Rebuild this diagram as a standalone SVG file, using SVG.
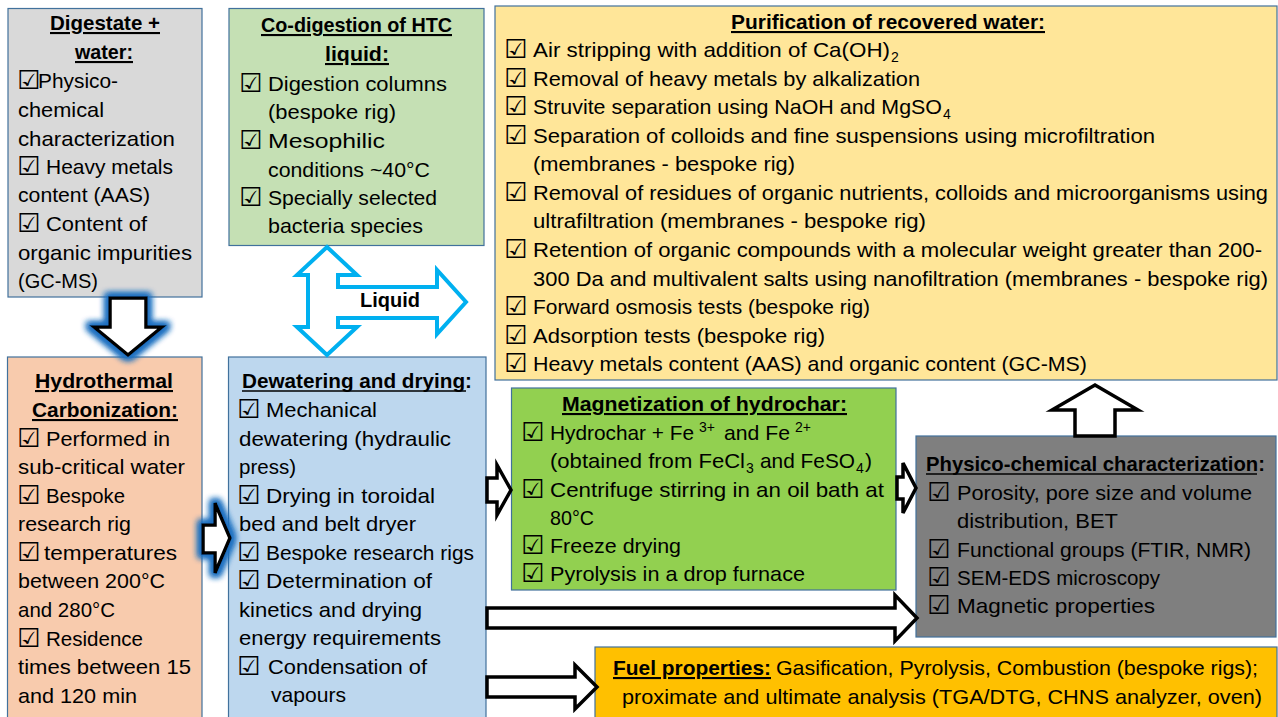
<svg xmlns="http://www.w3.org/2000/svg" width="1278" height="717" viewBox="0 0 1278 717">
<defs>
<style>
text{font-family:"Liberation Sans",Arial,sans-serif;font-size:21px;fill:#000}
.h{font-weight:bold;text-decoration:underline}
.hb{font-weight:bold}
.ul{stroke:#000;stroke-width:1.6}
.cb{font-family:"DejaVu Sans",sans-serif;font-size:26px}
.s{font-size:14px}
.box{stroke:#41719c;stroke-width:1.2}
.arr{fill:#fff;stroke:#000;stroke-width:3.5;stroke-linejoin:miter}
</style>
<filter id="glow" x="-50%" y="-50%" width="200%" height="200%">
<feMorphology in="SourceAlpha" operator="dilate" radius="3" result="d"/>
<feGaussianBlur in="d" stdDeviation="3" result="b"/>
<feFlood flood-color="#1f6fc0"/>
<feComposite in2="b" operator="in" result="g"/>
<feMerge><feMergeNode in="g"/><feMergeNode in="g"/><feMergeNode in="SourceGraphic"/></feMerge>
</filter>
</defs>
<rect width="1278" height="717" fill="#fff"/>

<g id="digestate">
<rect class="box" x="8" y="8.5" width="194" height="288.5" fill="#d9d9d9"/>
<text class="h" x="50" y="30" textLength="110" lengthAdjust="spacingAndGlyphs">Digestate +</text>
<text class="h" x="75" y="59" textLength="58" lengthAdjust="spacingAndGlyphs">water:</text>
<text class="cb" x="17" y="89">☑</text>
<text x="38" y="88" textLength="80" lengthAdjust="spacingAndGlyphs">Physico-</text>
<text x="18" y="117" textLength="86" lengthAdjust="spacingAndGlyphs">chemical</text>
<text x="18" y="146" textLength="157" lengthAdjust="spacingAndGlyphs">characterization</text>
<text class="cb" x="17" y="175">☑</text>
<text x="46" y="174" textLength="127" lengthAdjust="spacingAndGlyphs">Heavy metals</text>
<text x="18" y="202" textLength="132" lengthAdjust="spacingAndGlyphs">content (AAS)</text>
<text class="cb" x="17" y="232">☑</text>
<text x="46" y="231" textLength="101" lengthAdjust="spacingAndGlyphs">Content of</text>
<text x="18" y="260" textLength="174" lengthAdjust="spacingAndGlyphs">organic impurities</text>
<text x="18" y="288" textLength="80" lengthAdjust="spacingAndGlyphs">(GC-MS)</text>
</g>

<g id="codigestion">
<rect class="box" x="229" y="8.5" width="255" height="237" fill="#c5e0b4"/>
<text class="h" x="261" y="32" textLength="191" lengthAdjust="spacingAndGlyphs">Co-digestion of HTC</text>
<text class="h" x="325" y="61" textLength="64" lengthAdjust="spacingAndGlyphs">liquid:</text>
<text class="cb" x="239" y="92">☑</text>
<text x="268" y="91" textLength="179" lengthAdjust="spacingAndGlyphs">Digestion columns</text>
<text x="268" y="119" textLength="128" lengthAdjust="spacingAndGlyphs">(bespoke rig)</text>
<text class="cb" x="239" y="149">☑</text>
<text x="268" y="148" textLength="117" lengthAdjust="spacingAndGlyphs">Mesophilic</text>
<text x="268" y="177" textLength="162" lengthAdjust="spacingAndGlyphs">conditions ~40°C</text>
<text class="cb" x="239" y="206">☑</text>
<text x="268" y="205" textLength="169" lengthAdjust="spacingAndGlyphs">Specially selected</text>
<text x="268" y="233" textLength="155" lengthAdjust="spacingAndGlyphs">bacteria species</text>
</g>

<g id="purification">
<rect class="box" x="495" y="6" width="782" height="374" fill="#ffe699"/>
<text class="h" x="731" y="29" textLength="314" lengthAdjust="spacingAndGlyphs">Purification of recovered water:</text>
<text class="cb" x="504" y="58">☑</text>
<text x="533" y="57" textLength="357" lengthAdjust="spacingAndGlyphs">Air stripping with addition of Ca(OH)</text>
<text class="s" x="891" y="62">2</text>
<text class="cb" x="504" y="86.5">☑</text>
<text x="533" y="85.5" textLength="387" lengthAdjust="spacingAndGlyphs">Removal of heavy metals by alkalization</text>
<text class="cb" x="504" y="115">☑</text>
<text x="533" y="114" textLength="409" lengthAdjust="spacingAndGlyphs">Struvite separation using NaOH and MgSO</text>
<text class="s" x="943" y="119">4</text>
<text class="cb" x="504" y="144">☑</text>
<text x="533" y="143" textLength="622" lengthAdjust="spacingAndGlyphs">Separation of colloids and fine suspensions using microfiltration</text>
<text x="533" y="171" textLength="262" lengthAdjust="spacingAndGlyphs">(membranes - bespoke rig)</text>
<text class="cb" x="504" y="201">☑</text>
<text x="533" y="200" textLength="735" lengthAdjust="spacingAndGlyphs">Removal of residues of organic nutrients, colloids and microorganisms using</text>
<text x="533" y="228" textLength="393" lengthAdjust="spacingAndGlyphs">ultrafiltration (membranes - bespoke rig)</text>
<text class="cb" x="504" y="258">☑</text>
<text x="533" y="257" textLength="729" lengthAdjust="spacingAndGlyphs">Retention of organic compounds with a molecular weight greater than 200-</text>
<text x="533" y="286" textLength="735" lengthAdjust="spacingAndGlyphs">300 Da and multivalent salts using nanofiltration (membranes - bespoke rig)</text>
<text class="cb" x="504" y="315">☑</text>
<text x="533" y="314" textLength="337" lengthAdjust="spacingAndGlyphs">Forward osmosis tests (bespoke rig)</text>
<text class="cb" x="504" y="344">☑</text>
<text x="533" y="343" textLength="292" lengthAdjust="spacingAndGlyphs">Adsorption tests (bespoke rig)</text>
<text class="cb" x="504" y="372">☑</text>
<text x="533" y="371" textLength="554" lengthAdjust="spacingAndGlyphs">Heavy metals content (AAS) and organic content (GC-MS)</text>
</g>

<g id="htc">
<rect class="box" x="7.5" y="357" width="194.5" height="365" fill="#f8cbad"/>
<text class="h" x="35" y="388" textLength="138" lengthAdjust="spacingAndGlyphs">Hydrothermal</text>
<text class="h" x="32" y="417" textLength="146" lengthAdjust="spacingAndGlyphs">Carbonization:</text>
<text class="cb" x="17" y="447">☑</text>
<text x="46" y="446" textLength="124" lengthAdjust="spacingAndGlyphs">Performed in</text>
<text x="18" y="474" textLength="167" lengthAdjust="spacingAndGlyphs">sub-critical water</text>
<text class="cb" x="17" y="504">☑</text>
<text x="46" y="503" textLength="79" lengthAdjust="spacingAndGlyphs">Bespoke</text>
<text x="18" y="531" textLength="113" lengthAdjust="spacingAndGlyphs">research rig</text>
<text class="cb" x="17" y="561">☑</text>
<text x="44" y="560" textLength="133" lengthAdjust="spacingAndGlyphs">temperatures</text>
<text x="18" y="588" textLength="147" lengthAdjust="spacingAndGlyphs">between 200°C</text>
<text x="18" y="617" textLength="97" lengthAdjust="spacingAndGlyphs">and 280°C</text>
<text class="cb" x="17" y="647">☑</text>
<text x="46" y="646" textLength="97" lengthAdjust="spacingAndGlyphs">Residence</text>
<text x="18" y="674" textLength="173" lengthAdjust="spacingAndGlyphs">times between 15</text>
<text x="18" y="703" textLength="119" lengthAdjust="spacingAndGlyphs">and 120 min</text>
</g>

<g id="dewatering">
<rect class="box" x="228.5" y="357" width="257.5" height="365" fill="#bdd7ee"/>
<text class="hb" x="242" y="388" textLength="230" lengthAdjust="spacingAndGlyphs">Dewatering and drying:</text>
<line class="ul" x1="242" y1="391" x2="466" y2="391"/>
<text class="cb" x="237" y="418">☑</text>
<text x="266" y="417" textLength="111" lengthAdjust="spacingAndGlyphs">Mechanical</text>
<text x="239" y="446" textLength="212" lengthAdjust="spacingAndGlyphs">dewatering (hydraulic</text>
<text x="239" y="474" textLength="57" lengthAdjust="spacingAndGlyphs">press)</text>
<text class="cb" x="237" y="504">☑</text>
<text x="266" y="503" textLength="169" lengthAdjust="spacingAndGlyphs">Drying in toroidal</text>
<text x="239" y="531" textLength="177" lengthAdjust="spacingAndGlyphs">bed and belt dryer</text>
<text class="cb" x="237" y="561">☑</text>
<text x="266" y="560" textLength="208" lengthAdjust="spacingAndGlyphs">Bespoke research rigs</text>
<text class="cb" x="237" y="589">☑</text>
<text x="266" y="588" textLength="166" lengthAdjust="spacingAndGlyphs">Determination of</text>
<text x="239" y="617" textLength="183" lengthAdjust="spacingAndGlyphs">kinetics and drying</text>
<text x="239" y="645" textLength="202" lengthAdjust="spacingAndGlyphs">energy requirements</text>
<text class="cb" x="237" y="675">☑</text>
<text x="268" y="674" textLength="159" lengthAdjust="spacingAndGlyphs">Condensation of</text>
<text x="271" y="702" textLength="75" lengthAdjust="spacingAndGlyphs">vapours</text>
</g>

<g id="magnetization">
<rect class="box" x="511.5" y="388" width="384.5" height="202" fill="#92d050"/>
<text class="h" x="562" y="411" textLength="285" lengthAdjust="spacingAndGlyphs">Magnetization of hydrochar:</text>
<text class="cb" x="521" y="441">☑</text>
<text x="550" y="440" textLength="144" lengthAdjust="spacingAndGlyphs">Hydrochar + Fe</text>
<text class="s" x="699" y="432">3+</text>
<text x="724" y="440" textLength="66" lengthAdjust="spacingAndGlyphs">and Fe</text>
<text class="s" x="795" y="432">2+</text>
<text x="550" y="468" textLength="195" lengthAdjust="spacingAndGlyphs">(obtained from FeCl</text>
<text class="s" x="746" y="473">3</text>
<text x="760" y="468" textLength="95" lengthAdjust="spacingAndGlyphs">and FeSO</text>
<text class="s" x="856" y="473">4</text>
<text x="865" y="468">)</text>
<text class="cb" x="521" y="498">☑</text>
<text x="550" y="497" textLength="334" lengthAdjust="spacingAndGlyphs">Centrifuge stirring in an oil bath at</text>
<text x="550" y="525" textLength="44" lengthAdjust="spacingAndGlyphs">80°C</text>
<text class="cb" x="521" y="554">☑</text>
<text x="550" y="553" textLength="131" lengthAdjust="spacingAndGlyphs">Freeze drying</text>
<text class="cb" x="521" y="582">☑</text>
<text x="550" y="581" textLength="255" lengthAdjust="spacingAndGlyphs">Pyrolysis in a drop furnace</text>
</g>

<g id="physico">
<rect class="box" x="916" y="436" width="360" height="201" fill="#7f7f7f"/>
<text class="hb" x="926" y="471" textLength="339" lengthAdjust="spacingAndGlyphs">Physico-chemical characterization:</text>
<line class="ul" x1="926" y1="474" x2="1257" y2="474"/>
<text class="cb" x="927" y="501">☑</text>
<text x="957" y="500" textLength="295" lengthAdjust="spacingAndGlyphs">Porosity, pore size and volume</text>
<text x="957" y="528" textLength="161" lengthAdjust="spacingAndGlyphs">distribution, BET</text>
<text class="cb" x="927" y="558">☑</text>
<text x="957" y="557" textLength="294" lengthAdjust="spacingAndGlyphs">Functional groups (FTIR, NMR)</text>
<text class="cb" x="927" y="586">☑</text>
<text x="957" y="585" textLength="203" lengthAdjust="spacingAndGlyphs">SEM-EDS microscopy</text>
<text class="cb" x="927" y="614">☑</text>
<text x="957" y="613" textLength="198" lengthAdjust="spacingAndGlyphs">Magnetic properties</text>
</g>

<g id="fuel">
<rect class="box" x="595" y="647" width="682" height="75" fill="#ffc000"/>
<text class="h" x="613" y="675" textLength="158" lengthAdjust="spacingAndGlyphs">Fuel properties:</text>
<text x="776" y="675" textLength="482" lengthAdjust="spacingAndGlyphs">Gasification, Pyrolysis, Combustion (bespoke rigs);</text>
<text x="622" y="704" textLength="640" lengthAdjust="spacingAndGlyphs">proximate and ultimate analysis (TGA/DTG, CHNS analyzer, oven)</text>
</g>

<g id="connectors">
<path class="arr" filter="url(#glow)" d="M110,298 H146 V327 H162 L128,355 L94,327 H110 Z"/>
<path class="arr" filter="url(#glow)" d="M203,525 H215 V503 L230,538 L215,573 V553 H203 Z"/>
<path d="M327,247 L357,275 H338 V287 H437 V270 L466,302 L437,334 V318 H338 V327 H357 L327,355 L297,327 H308 V275 H297 Z" fill="#fff" stroke="#00b0f0" stroke-width="4" stroke-linejoin="miter"/>
<text class="hb" x="360" y="307" font-size="19" textLength="60" lengthAdjust="spacingAndGlyphs">Liquid</text>
<path class="arr" d="M487,478 H497 V465 L511,490 L497,515 V502 H487 Z"/>
<path class="arr" d="M897,477 H903 V463 L916,488 L903,513 V499 H897 Z"/>
<path class="arr" d="M487,608 H895 V595 L917,618 L895,641 V628 H487 Z"/>
<path class="arr" d="M487,677 H575 V665 L597,687 L575,709 V697 H487 Z"/>
<path class="arr" d="M1075,436 V410 H1052 L1095,385 L1138,410 H1115 V436 Z"/>
</g>
</svg>
